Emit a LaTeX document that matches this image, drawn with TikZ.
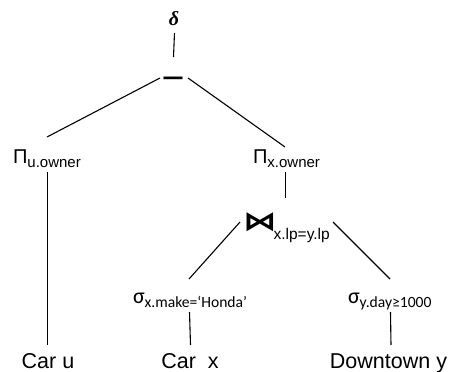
\documentclass[tikz,border=0pt]{standalone}
\usepackage{fontspec}
\setmainfont{Liberation Sans}
\newfontfamily\carl{Carlito}
\newfontfamily\tms{Liberation Serif}
\newfontfamily\djv{DejaVu Sans}
% operators with a lowered subscript
\newcommand\projop[1]{{\fontsize{20}{20}\selectfont Π}\raisebox{-4pt}{\fontsize{15}{15}\selectfont #1}}
\newcommand\selop[1]{{\carl\fontsize{22}{22}\selectfont σ}\raisebox{-4.7pt}{\carl\fontsize{15.6}{15.6}\selectfont #1}}
\newcommand\joinop[1]{\scalebox{1.4}[1.1]{\djv\bfseries\fontsize{24}{24}\selectfont ⋈}\hspace{-3pt}\raisebox{-9pt}{\fontsize{15.5}{15.5}\selectfont #1}}
\begin{document}
\begin{tikzpicture}[x=1pt,y=-1pt,
  every node/.style={inner sep=0pt, outer sep=0pt},
  op/.style={anchor=base west},
  rel/.style={anchor=base, font=\fontsize{21.5}{24}\selectfont},
  edge/.style={line width=1.1pt, black}]
\useasboundingbox (0,0) rectangle (453,372);

% operators
\node (delta) at (174,19) {\tms\bfseries\itshape\fontsize{20}{20}\selectfont δ};
\node (minus) at (173,81.5) {\scalebox{1}[1.4]{\bfseries\fontsize{19}{19}\selectfont —}};
\node[op] (pu) at (13,163.5) {\projop{u.owner}};
\node[op] (px) at (253,163.5) {\projop{x.owner}};
\node[op] (join) at (243,230) {\joinop{x.lp=y.lp}};
\node[op] (sx) at (133,303) {\selop{x.make=‘Honda’}};
\node[op] (sy) at (348,303) {\selop{y.day≥1000}};

% relations
\node[rel] (caru) at (48,368) {Car u};
\node[rel] (carx) at (190,368) {Car\ \ x};
\node[rel] (down) at (388.5,368) {Downtown y};

% tree edges
\draw[edge] ([xshift=0.5pt,yshift=-14pt]delta.center) -- ([xshift=0.5pt,yshift=24.5pt]minus.center);
\draw[edge] ([xshift=-13pt,yshift=3.5pt]minus.center) -- ([xshift=34pt,yshift=26.5pt]pu.base west);
\draw[edge] ([xshift=15pt,yshift=3.5pt]minus.center) -- ([xshift=32pt,yshift=16.5pt]px.base west);
\draw[edge] ([xshift=34.5pt,yshift=-8.5pt]pu.base west) -- ([xshift=-0.5pt,yshift=23pt]caru.base);
\draw[edge] ([xshift=32.5pt,yshift=-8.5pt]px.base west) -- ([xshift=42.5pt,yshift=32pt]join.base west);
\draw[edge] ([xshift=-3pt,yshift=8pt]join.base west) -- ([xshift=56pt,yshift=24pt]sx.base west);
\draw[edge] ([xshift=90pt,yshift=8pt]join.base west) -- ([xshift=42pt,yshift=24pt]sy.base west);
\draw[edge] ([xshift=56.5pt,yshift=-9pt]sx.base west) -- ([xshift=0.5pt,yshift=23pt]carx.base);
\draw[edge] ([xshift=42.5pt,yshift=-9pt]sy.base west) -- ([xshift=2.5pt,yshift=23pt]down.base);
\end{tikzpicture}
\end{document}
